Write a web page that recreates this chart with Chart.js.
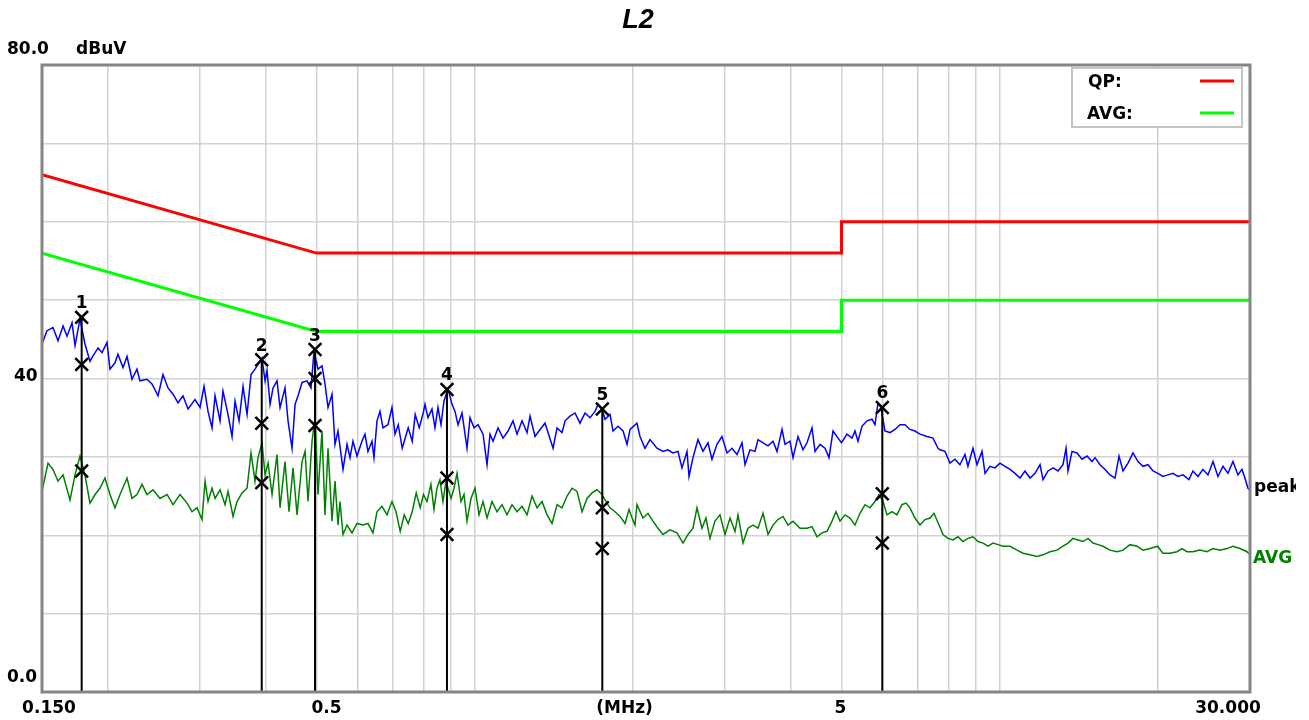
<!DOCTYPE html>
<html>
<head>
<meta charset="utf-8">
<title>L2</title>
<script src="https://cdn.jsdelivr.net/npm/chart.js@4.4.1/dist/chart.umd.min.js"></script>
<style>
  html, body { margin: 0; padding: 0; background: #fff; }
  #wrap { width: 1309px; height: 720px; }
</style>
</head>
<body>
<div id="wrap"><canvas id="emi" width="1309" height="720"></canvas></div>
<script>
"use strict";

// ─── Data (MHz / dBuV) ─────────────────────────────────────────────────────

const gridFreq = [0.15, 0.2, 0.3, 0.4, 0.5, 0.6, 0.7, 0.8, 0.9, 1, 2, 3, 4, 5, 6, 7, 8, 9, 10, 20, 30];
const xTickFreq = [0.15, 0.5, 2, 5, 30];
const xTickLabels = ["0.150", "0.5", "(MHz)", "5", "30.000"];
const yTickValues = [80, 40, 0];
const yTickLabels = ["80.0", "40", "0.0"];

const limitFreq = [0.15, 0.5, 5, 5, 30];
const qpLimit = [66, 56, 56, 60, 60];
const avgLimit = [56, 46, 46, 50, 50];

const peakFreq = [
  0.1500, 0.1533, 0.1574, 0.1609, 0.1645, 0.1674, 0.1711, 0.1734, 0.1772, 0.1811,
  0.1851, 0.1876, 0.1918, 0.1952, 0.1995, 0.2021, 0.2066, 0.2093, 0.2140, 0.2178,
  0.2226, 0.2275, 0.2305, 0.2377, 0.2430, 0.2495, 0.2550, 0.2607, 0.2665, 0.2724,
  0.2784, 0.2846, 0.2935, 0.3000, 0.3053, 0.3107, 0.3162, 0.3204, 0.3275, 0.3318,
  0.3392, 0.3452, 0.3498, 0.3560, 0.3623, 0.3687, 0.3752, 0.3818, 0.3937, 0.3990,
  0.4025, 0.4078, 0.4132, 0.4205, 0.4261, 0.4355, 0.4413, 0.4491, 0.4551, 0.4611,
  0.4693, 0.4797, 0.4881, 0.4946, 0.5033, 0.5122, 0.5190, 0.5259, 0.5352, 0.5423,
  0.5494, 0.5616, 0.5716, 0.5791, 0.5868, 0.5972, 0.6103, 0.6184, 0.6266, 0.6377,
  0.6433, 0.6519, 0.6605, 0.6692, 0.6841, 0.6962, 0.7055, 0.7155, 0.7282, 0.7378,
  0.7476, 0.7608, 0.7709, 0.7846, 0.7984, 0.8046, 0.8152, 0.8296, 0.8407, 0.8518,
  0.8631, 0.8745, 0.8900, 0.9059, 0.9179, 0.9301, 0.9466, 0.9675, 0.9804, 0.9977,
  1.0155, 1.0380, 1.0564, 1.0703, 1.0845, 1.1086, 1.1331, 1.1583, 1.1840, 1.2049,
  1.2316, 1.2589, 1.2756, 1.3039, 1.3328, 1.3624, 1.3804, 1.4110, 1.4360, 1.4678,
  1.4873, 1.5202, 1.5539, 1.5884, 1.6236, 1.6596, 1.6964, 1.7188, 1.7491, 1.7723,
  1.8118, 1.8358, 1.8765, 1.9182, 1.9521, 1.9780, 2.0390, 2.0660, 2.1118, 2.1586,
  2.2259, 2.2852, 2.3359, 2.3877, 2.4407, 2.4839, 2.5394, 2.5617, 2.6067, 2.6645,
  2.7234, 2.7838, 2.8331, 2.8959, 2.9601, 3.0264, 3.0935, 3.1621, 3.2323, 3.2750,
  3.3476, 3.4219, 3.4672, 3.5441, 3.6227, 3.7030, 3.7685, 3.8521, 3.9031, 3.9897,
  4.0423, 4.1320, 4.2235, 4.2983, 4.3936, 4.4518, 4.5505, 4.6514, 4.7337, 4.8177,
  4.9245, 5.0000, 5.1221, 5.2357, 5.3050, 5.3752, 5.4704, 5.5916, 5.7156, 5.7913,
  5.8680, 5.9457, 6.0502, 6.1843, 6.3215, 6.4617, 6.6049, 6.7514, 6.9010, 7.0555,
  7.2754, 7.4694, 7.6350, 7.7023, 7.8731, 8.0457, 8.2241, 8.4065, 8.5929, 8.7067,
  8.8998, 9.0594, 9.2603, 9.3829, 9.5910, 9.8036, 10.020, 10.244, 10.471, 10.703,
  10.941, 11.183, 11.431, 11.685, 11.944, 12.102, 12.370, 12.645, 12.925, 13.211,
  13.387, 13.504, 13.744, 14.048, 14.360, 14.678, 15.004, 15.202, 15.539, 15.884,
  16.236, 16.596, 16.890, 17.188, 17.569, 17.958, 18.357, 18.765, 19.182, 19.607,
  20.035, 20.479, 20.933, 21.398, 21.872, 22.357, 22.953, 23.359, 23.877, 24.407,
  24.949, 25.505, 26.067, 26.645, 27.234, 27.838, 28.455, 28.959, 29.342, 29.733,
  30.000,
];
const peakLevel = [
  44.4, 46.1, 46.5, 44.8, 46.7, 45.4, 47.1, 44.2, 47.6, 44.4,
  42.2, 42.9, 43.9, 43.3, 44.6, 41.2, 42.0, 43.1, 41.4, 42.8,
  39.9, 41.2, 39.7, 39.9, 39.3, 37.8, 40.5, 38.8, 38.0, 36.9,
  37.8, 36.1, 37.3, 36.3, 39.0, 35.8, 33.7, 37.8, 34.6, 38.4,
  35.4, 32.6, 37.1, 34.6, 39.0, 35.4, 40.5, 41.2, 42.6, 39.7,
  41.0, 36.7, 38.8, 39.7, 36.3, 38.8, 34.6, 31.1, 36.7, 37.8,
  39.5, 39.7, 38.8, 43.5, 41.2, 41.6, 39.3, 36.3, 38.0, 31.6,
  33.3, 28.4, 31.6, 29.9, 32.0, 30.1, 32.0, 32.9, 30.7, 32.0,
  29.9, 34.6, 35.8, 33.7, 34.1, 36.3, 32.9, 34.1, 31.1, 32.4,
  33.7, 32.0, 35.4, 33.7, 35.6, 36.7, 35.0, 36.1, 33.7, 36.3,
  34.1, 37.1, 38.7, 36.7, 35.8, 34.1, 35.6, 31.1, 35.0, 33.7,
  34.1, 32.9, 29.0, 32.9, 32.0, 33.7, 32.4, 33.3, 34.6, 32.9,
  34.6, 33.1, 35.2, 32.6, 33.5, 34.3, 33.1, 31.1, 33.7, 33.1,
  34.6, 35.2, 35.6, 34.3, 35.6, 35.0, 35.8, 36.7, 36.1, 34.8,
  35.4, 33.3, 33.9, 33.3, 31.6, 33.5, 34.3, 32.6, 31.1, 32.2,
  31.1, 30.7, 30.9, 30.5, 30.7, 28.6, 30.7, 27.5, 29.9, 32.2,
  30.7, 31.8, 29.7, 31.6, 32.6, 30.5, 31.1, 30.3, 31.8, 29.0,
  30.9, 30.7, 32.2, 31.8, 31.4, 32.0, 30.7, 33.5, 31.6, 32.0,
  29.9, 32.6, 30.9, 31.8, 33.7, 30.7, 31.6, 31.1, 29.9, 33.3,
  32.4, 31.8, 32.9, 32.4, 33.3, 32.0, 33.9, 34.6, 34.8, 34.1,
  36.9, 36.3, 33.3, 33.1, 33.5, 34.1, 34.1, 33.5, 33.3, 32.9,
  32.6, 32.4, 31.1, 30.9, 30.7, 29.2, 29.7, 29.0, 30.3, 28.8,
  31.1, 29.0, 30.7, 27.9, 28.8, 28.6, 29.2, 28.8, 28.4, 27.9,
  27.3, 28.2, 27.3, 27.9, 29.0, 27.1, 28.2, 28.6, 28.2, 29.0,
  31.1, 28.2, 30.7, 30.5, 29.7, 30.1, 29.4, 29.9, 29.0, 28.4,
  27.7, 27.3, 30.1, 28.2, 29.2, 30.5, 29.4, 28.8, 29.0, 28.2,
  27.9, 27.5, 27.7, 27.9, 27.5, 27.7, 27.1, 28.2, 27.5, 28.4,
  27.7, 29.4, 27.5, 28.8, 27.9, 29.4, 27.7, 28.4, 27.3, 26.0,
  25.8,
];

const avgFreq = [
  0.1500, 0.1540, 0.1574, 0.1609, 0.1645, 0.1696, 0.1734, 0.1772, 0.1811, 0.1851,
  0.1893, 0.1934, 0.1977, 0.2021, 0.2066, 0.2112, 0.2178, 0.2226, 0.2275, 0.2326,
  0.2377, 0.2441, 0.2517, 0.2596, 0.2665, 0.2748, 0.2834, 0.2896, 0.2960, 0.3026,
  0.3067, 0.3107, 0.3162, 0.3204, 0.3275, 0.3348, 0.3392, 0.3467, 0.3529, 0.3607,
  0.3687, 0.3752, 0.3818, 0.3869, 0.3937, 0.3990, 0.4043, 0.4114, 0.4205, 0.4261,
  0.4355, 0.4432, 0.4511, 0.4591, 0.4693, 0.4755, 0.4818, 0.4903, 0.4968, 0.5033,
  0.5122, 0.5190, 0.5259, 0.5352, 0.5423, 0.5494, 0.5543, 0.5616, 0.5716, 0.5842,
  0.5972, 0.6130, 0.6266, 0.6405, 0.6519, 0.6663, 0.6811, 0.6962, 0.7086, 0.7218,
  0.7346, 0.7476, 0.7608, 0.7743, 0.7880, 0.7992, 0.8117, 0.8260, 0.8370, 0.8481,
  0.8593, 0.8707, 0.8822, 0.9020, 0.9139, 0.9260, 0.9424, 0.9549, 0.9675, 0.9847,
  1.0020, 1.0199, 1.0380, 1.0564, 1.0798, 1.1037, 1.1282, 1.1532, 1.1788, 1.2049,
  1.2316, 1.2589, 1.2868, 1.3154, 1.3446, 1.3744, 1.4048, 1.4360, 1.4678, 1.5004,
  1.5336, 1.5676, 1.6024, 1.6379, 1.6742, 1.7113, 1.7491, 1.7801, 1.8118, 1.8520,
  1.8931, 1.9351, 1.9693, 1.9954, 2.0212, 2.0390, 2.0933, 2.1398, 2.1872, 2.2357,
  2.2852, 2.3565, 2.4300, 2.4949, 2.5505, 2.6067, 2.6529, 2.7115, 2.7595, 2.8083,
  2.8706, 2.9342, 3.0000, 3.0665, 3.1345, 3.1760, 3.2465, 3.3184, 3.3920, 3.4672,
  3.5441, 3.6227, 3.7030, 3.7850, 3.8690, 3.9548, 4.0423, 4.1684, 4.2983, 4.3936,
  4.4910, 4.5906, 4.6924, 4.7966, 4.8815, 4.9679, 5.0774, 5.1899, 5.3050, 5.4226,
  5.5428, 5.6657, 5.7913, 5.8938, 6.0000, 6.1035, 6.2388, 6.3772, 6.5186, 6.6340,
  6.7514, 6.9010, 7.0555, 7.2119, 7.3718, 7.5023, 7.6686, 7.8043, 7.9774, 8.1523,
  8.3331, 8.5179, 8.7067, 8.8998, 9.0992, 9.3010, 9.5071, 9.7179, 9.9334, 10.155,
  10.471, 10.798, 11.086, 11.431, 11.788, 12.102, 12.479, 12.868, 13.211, 13.504,
  13.804, 14.110, 14.423, 14.743, 15.070, 15.404, 15.745, 16.236, 16.742, 17.188,
  17.723, 18.276, 18.765, 19.351, 20.000, 20.479, 21.118, 21.777, 22.259, 22.752,
  23.359, 24.088, 24.839, 25.505, 26.297, 27.115, 27.838, 28.706, 29.601, 30.000,
];
const avgLevel = [
  25.6, 29.2, 28.4, 26.9, 27.7, 24.5, 27.7, 30.1, 27.7, 24.1,
  25.2, 26.0, 27.3, 25.2, 23.5, 25.2, 27.3, 24.7, 25.2, 26.5,
  25.2, 25.8, 24.7, 25.2, 23.9, 25.2, 24.1, 23.0, 23.5, 22.0,
  26.9, 24.3, 26.0, 24.7, 25.8, 23.9, 25.6, 22.4, 24.3, 25.4,
  26.0, 30.5, 26.9, 29.9, 31.8, 27.7, 29.2, 25.2, 30.3, 23.5,
  29.4, 23.0, 28.6, 22.6, 29.4, 30.7, 24.3, 32.0, 35.0, 25.2,
  33.3, 22.6, 31.1, 21.8, 26.9, 21.3, 24.3, 20.1, 21.3, 20.3,
  21.5, 21.3, 21.5, 20.3, 23.0, 23.7, 22.6, 24.3, 23.0, 20.5,
  22.6, 21.5, 23.0, 25.4, 23.5, 25.2, 24.3, 26.5, 23.3, 26.0,
  27.1, 24.3, 26.9, 24.7, 26.0, 27.9, 24.3, 25.2, 21.8, 24.7,
  26.0, 22.6, 24.3, 22.2, 24.3, 23.0, 23.9, 22.6, 23.9, 23.0,
  23.7, 22.6, 25.0, 23.5, 24.3, 22.6, 21.5, 23.9, 23.5, 25.0,
  26.0, 25.6, 23.0, 24.7, 25.4, 25.8, 25.2, 24.3, 23.5, 23.0,
  22.4, 21.5, 23.3, 22.2, 21.3, 23.9, 22.2, 22.8, 21.8, 20.9,
  20.1, 20.7, 20.3, 19.0, 20.1, 20.9, 23.5, 20.9, 22.2, 19.6,
  21.8, 22.6, 20.1, 22.2, 20.5, 22.6, 19.0, 20.9, 21.3, 20.9,
  22.8, 20.1, 21.3, 22.0, 22.4, 21.3, 21.8, 20.9, 20.9, 21.1,
  19.8, 20.3, 20.5, 21.8, 23.0, 21.8, 22.6, 22.2, 21.3, 22.8,
  23.9, 23.5, 24.3, 25.2, 24.3, 22.6, 23.0, 22.6, 23.9, 24.1,
  23.5, 22.2, 21.3, 22.0, 22.2, 22.8, 21.3, 20.1, 19.6, 19.4,
  19.8, 19.2, 19.6, 19.8, 19.2, 19.0, 18.6, 19.0, 18.8, 18.6,
  18.6, 18.1, 17.7, 17.5, 17.3, 17.5, 17.9, 18.1, 18.6, 19.0,
  19.6, 19.4, 19.2, 19.6, 19.0, 18.8, 18.6, 18.1, 17.9, 18.1,
  18.8, 18.6, 18.1, 18.3, 18.6, 17.7, 17.7, 17.9, 18.3, 17.9,
  17.9, 18.1, 17.9, 18.3, 18.1, 18.3, 18.6, 18.3, 17.9, 17.5,
];

// Final measurement markers: frequency, peak reading, QP reading, AVG reading
const markerLabel = ["1", "2", "3", "4", "5", "6"];
const markerFreq = [0.1785, 0.3932, 0.4968, 0.8861, 1.7514, 5.980];
const markerPeak = [47.8, 42.4, 43.7, 38.6, 36.1, 36.3];
const markerQP = [41.8, 34.3, 40.0, 27.3, 23.5, 25.3];
const markerAvg = [28.2, 26.7, 34.0, 20.1, 18.3, 19.0];

// ─── Helpers ───────────────────────────────────────────────────────────────

const FONT = '"DejaVu Sans", "Liberation Sans", sans-serif';

function toPoints(xs, ys) {
  return xs.map((x, i) => ({ x, y: ys[i] }));
}

const markerStems = markerFreq.flatMap((f, i) => [
  { x: f, y: 0 },
  { x: f, y: markerPeak[i] },
  { x: f, y: null },
]);

const markerCrosses = markerFreq.flatMap((f, i) => [
  { x: f, y: markerPeak[i] },
  { x: f, y: markerQP[i] },
  { x: f, y: markerAvg[i] },
]);

// ─── Overlay: frame, texts, legend box ─────────────────────────────────────

const overlayPlugin = {
  id: "overlay",
  afterDatasetsDraw(chart) {
    const { ctx, chartArea: a, scales: { x, y } } = chart;
    ctx.save();

    // marker numbers above each top cross
    ctx.fillStyle = "#000";
    ctx.font = `bold 17px ${FONT}`;
    ctx.textAlign = "center";
    ctx.textBaseline = "alphabetic";
    markerFreq.forEach((f, i) => {
      ctx.fillText(markerLabel[i], x.getPixelForValue(f), y.getPixelForValue(markerPeak[i]) - 9);
    });

    // legend box (top right, inside plot)
    ctx.fillStyle = "#fff";
    ctx.fillRect(1072, 68, 170, 59);
    ctx.strokeStyle = "#c4c4c4";
    ctx.lineWidth = 2;
    ctx.strokeRect(1072, 68, 170, 59);
    ctx.fillStyle = "#000";
    ctx.font = `bold 17px ${FONT}`;
    ctx.textAlign = "left";
    ctx.fillText("QP:", 1088, 87);
    ctx.fillText("AVG:", 1087, 119);
    ctx.lineWidth = 3;
    ctx.strokeStyle = "#ff0000";
    ctx.beginPath(); ctx.moveTo(1200, 81); ctx.lineTo(1234, 81); ctx.stroke();
    ctx.strokeStyle = "#00ff00";
    ctx.beginPath(); ctx.moveTo(1200, 113); ctx.lineTo(1234, 113); ctx.stroke();

    // plot frame
    ctx.strokeStyle = "#858585";
    ctx.lineWidth = 3;
    ctx.strokeRect(a.left, a.top, a.right - a.left, a.bottom - a.top);
    ctx.restore();
  },
  afterDraw(chart) {
    const { ctx, scales: { x, y } } = chart;
    ctx.save();
    ctx.fillStyle = "#000";
    ctx.textBaseline = "alphabetic";

    // title
    ctx.font = 'italic bold 27px "Liberation Sans", Arial, sans-serif';
    ctx.textAlign = "center";
    ctx.fillText("L2", 638, 28);

    // y labels (written above their gridlines, at the left)
    ctx.font = `bold 17px ${FONT}`;
    ctx.textAlign = "left";
    const yLeft = [7, 14, 7];
    const yShift = [-11, 2, -10];
    yTickValues.forEach((v, i) => {
      ctx.fillText(yTickLabels[i], yLeft[i], y.getPixelForValue(v) + yShift[i]);
    });
    ctx.fillText("dBuV", 76, y.getPixelForValue(80) - 11);

    // x labels under the axis
    ctx.textAlign = "center";
    const xShift = [7, 10, -8, -1, -22];
    xTickFreq.forEach((f, i) => {
      ctx.fillText(xTickLabels[i], x.getPixelForValue(f) + xShift[i], 713);
    });

    // trace names at the right end (clipped like the original)
    ctx.beginPath();
    ctx.rect(0, 0, 1296, 720);
    ctx.clip();
    ctx.textAlign = "left";
    ctx.fillStyle = "#000";
    ctx.fillText("peak", 1254, 492);
    ctx.fillStyle = "#008000";
    ctx.fillText("AVG", 1253, 563);
    ctx.restore();
  },
};

// ─── Chart ─────────────────────────────────────────────────────────────────

new Chart(document.getElementById("emi").getContext("2d"), {
  type: "scatter",
  data: {
    datasets: [
      {
        label: "markers",
        data: markerStems,
        showLine: true,
        borderColor: "#000",
        borderWidth: 2,
        pointRadius: 0,
        spanGaps: false,
        order: 0,
      },
      {
        label: "readings",
        data: markerCrosses,
        showLine: false,
        pointStyle: "crossRot",
        pointRadius: 9,
        pointBorderWidth: 2.5,
        pointBorderColor: "#000",
        order: 0,
      },
      {
        label: "QP",
        data: toPoints(limitFreq, qpLimit),
        showLine: true,
        borderColor: "#ff0000",
        borderWidth: 3,
        pointRadius: 0,
        order: 1,
      },
      {
        label: "AVG",
        data: toPoints(limitFreq, avgLimit),
        showLine: true,
        borderColor: "#00ff00",
        borderWidth: 3,
        pointRadius: 0,
        order: 1,
      },
      {
        label: "peak",
        data: toPoints(peakFreq, peakLevel),
        showLine: true,
        borderColor: "#0000ff",
        borderWidth: 1.5,
        pointRadius: 0,
        order: 2,
      },
      {
        label: "avg",
        data: toPoints(avgFreq, avgLevel),
        showLine: true,
        borderColor: "#008000",
        borderWidth: 1.5,
        pointRadius: 0,
        order: 2,
      },
    ],
  },
  options: {
    responsive: false,
    animation: false,
    events: [],
    layout: { padding: { left: 42, top: 65, right: 59, bottom: 28 } },
    scales: {
      x: {
        type: "logarithmic",
        min: 0.15,
        max: 30,
        afterBuildTicks: (scale) => {
          scale.ticks = gridFreq.map((v) => ({ value: v }));
        },
        ticks: { display: false },
        grid: { color: "#d2d2d2", lineWidth: 1.5, drawTicks: false },
        border: { display: false },
      },
      y: {
        min: 0,
        max: 80,
        ticks: { display: false, stepSize: 10 },
        grid: { color: "#d2d2d2", lineWidth: 1.5, drawTicks: false },
        border: { display: false },
      },
    },
    plugins: {
      legend: { display: false },
      tooltip: { enabled: false },
    },
  },
  plugins: [overlayPlugin],
});
</script>
</body>
</html>
